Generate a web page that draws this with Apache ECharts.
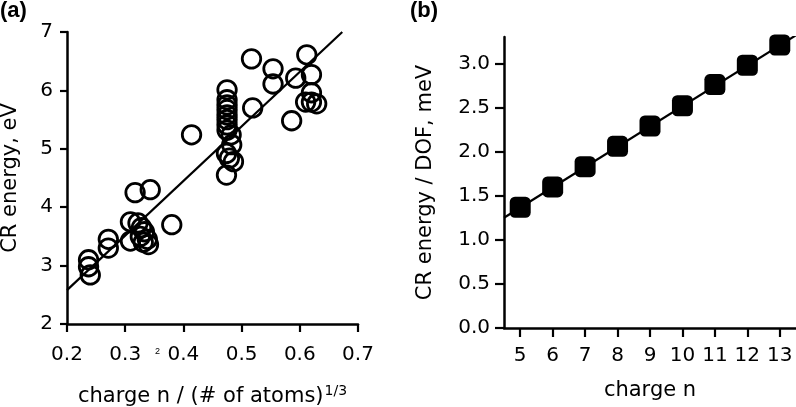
<!DOCTYPE html>
<html><head><meta charset="utf-8">
<script src="https://cdn.jsdelivr.net/npm/echarts@6/dist/echarts.min.js"></script>
<style>html,body{margin:0;padding:0;background:#fff}#c{width:796px;height:407px}</style>
</head><body><div id="c"></div>
<script>
// Panel (a): charge n / (# of atoms)^(1/3) vs CR energy (eV)
const scatterX = [0.475,0.475,0.475,0.475,0.475,0.475,0.475,0.475,0.482,0.483,0.474,0.479,0.486,0.474,
  0.519,0.517,0.554,0.554,0.593,0.612,0.620,0.620,0.610,0.620,0.629,0.586,0.414,
  0.317,0.343,0.380,0.309,0.322,0.328,0.333,0.326,0.338,0.331,0.340,0.309,0.271,0.271,0.237,0.237,0.240];
const scatterY = [6.01,5.84,5.75,5.67,5.58,5.50,5.41,5.32,5.24,5.07,4.92,4.84,4.78,4.55,
  5.70,6.54,6.37,6.11,6.21,6.61,6.27,5.96,5.80,5.80,5.77,5.48,5.24,
  4.25,4.30,3.70,3.75,3.73,3.65,3.58,3.50,3.45,3.40,3.36,3.42,3.45,3.30,3.10,2.98,2.84];
const fitAX = [0.2, 0.673];
const fitAY = [2.58, 7.0];
// Panel (b): charge n vs CR energy / DOF (meV)
const chargeN = [5,6,7,8,9,10,11,12,13];
const energyPerDOF = [1.37,1.60,1.83,2.06,2.29,2.52,2.76,2.98,3.21];
const fitBX = [4.5, 13.5];
const fitBY = [1.25, 3.32];
const ticksAX = [0.2,0.3,0.4,0.5,0.6,0.7];
const ticksAY = [2,3,4,5,6,7];
const ticksBX = [5,6,7,8,9,10,11,12,13];
const ticksBY = [0,0.5,1.0,1.5,2.0,2.5,3.0];

const FONT = 'DejaVu Sans';
const axisLine = {show:true, lineStyle:{color:'#000', width:2.5}};
const axisTick = (len, vals) => ({show:true, length:len, inside:false, lineStyle:{color:'#000', width:2.2}, customValues: vals});
const lbl = (vals, fmt, margin) => ({show:true, color:'#000', fontFamily:FONT, fontSize:20, margin:margin, customValues: vals, formatter: fmt});

const chart = echarts.init(document.getElementById('c'), null, {renderer:'canvas'});
chart.setOption({
  animation:false,
  backgroundColor:'#fff',
  textStyle:{fontFamily:FONT},
  grid:[
    {left:67, top:32, width:291, height:292, containLabel:false, outerBoundsMode:'none'},
    {left:504, top:37, width:292, height:291, containLabel:false, outerBoundsMode:'none'}
  ],
  xAxis:[
    {gridIndex:0, type:'value', min:0.2, max:0.7, interval:0.1,
     axisLine:axisLine, axisTick:axisTick(8, ticksAX), splitLine:{show:false},
     axisLabel:lbl(ticksAX, v=>v.toFixed(1), 21),
     name:'charge n / (# of atoms){sup|1/3}', nameLocation:'middle', nameGap:60,
     nameTextStyle:{color:'#000', fontFamily:FONT, fontSize:21,
       rich:{sup:{fontSize:14, color:'#000', fontFamily:FONT, padding:[0,0,12,1]}}}},
    {gridIndex:1, type:'value', min:4.5, max:13.5,
     axisLine:axisLine, axisTick:axisTick(9, ticksBX), splitLine:{show:false},
     axisLabel:lbl(ticksBX, v=>String(v), 18),
     name:'charge n', nameLocation:'middle', nameGap:52,
     nameTextStyle:{color:'#000', fontFamily:FONT, fontSize:21}}
  ],
  yAxis:[
    {gridIndex:0, type:'value', min:2, max:7, interval:1,
     axisLine:axisLine, axisTick:axisTick(7, ticksAY), splitLine:{show:false},
     axisLabel:lbl(ticksAY, v=>String(v), 14),
     name:'CR energy, eV', nameLocation:'middle', nameGap:46, nameRotate:90,
     nameTextStyle:{color:'#000', fontFamily:FONT, fontSize:21}},
    {gridIndex:1, type:'value', min:0, max:3.3,
     axisLine:axisLine, axisTick:axisTick(9, ticksBY), splitLine:{show:false},
     axisLabel:lbl(ticksBY, v=>v.toFixed(1), 14),
     name:'CR energy / DOF, meV', nameLocation:'middle', nameGap:68, nameRotate:90,
     nameTextStyle:{color:'#000', fontFamily:FONT, fontSize:21}}
  ],
  series:[
    {type:'line', xAxisIndex:0, yAxisIndex:0, data:fitAX.map((x,i)=>[x,fitAY[i]]),
     showSymbol:false, symbol:'none', lineStyle:{color:'#000', width:2.2}, clip:true, z:2},
    {type:'scatter', xAxisIndex:0, yAxisIndex:0, data:scatterX.map((x,i)=>[x,scatterY[i]]),
     symbol:'circle', symbolSize:18.5,
     itemStyle:{color:'rgba(0,0,0,0)', borderColor:'#000', borderWidth:2.8, opacity:1}, z:3},
    {type:'line', xAxisIndex:1, yAxisIndex:1, data:fitBX.map((x,i)=>[x,fitBY[i]]),
     showSymbol:false, symbol:'none', lineStyle:{color:'#000', width:2.2}, clip:true, z:2},
    {type:'scatter', xAxisIndex:1, yAxisIndex:1, data:chargeN.map((x,i)=>[x,energyPerDOF[i]]),
     symbol:'roundRect', symbolSize:21, itemStyle:{color:'#000', opacity:1}, z:3}
  ],
  graphic:[
    {type:'text', left:0, top:0, style:{text:'(a)', font:'bold 22px "Liberation Sans"', fill:'#000'}},
    {type:'text', left:410, top:0, style:{text:'(b)', font:'bold 22px "Liberation Sans"', fill:'#000'}},
    {type:'text', left:155, top:347, style:{text:'2', font:'9px "Liberation Sans"', fill:'#000'}}
  ]
});
</script></body></html>
